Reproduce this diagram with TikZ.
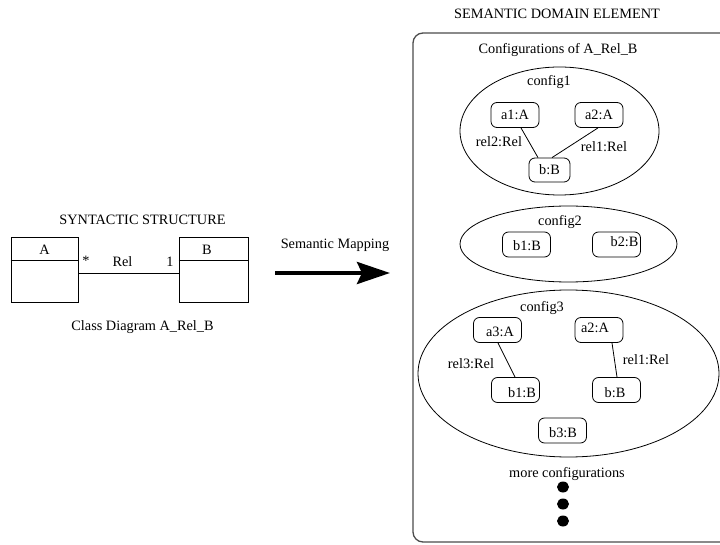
\documentclass[tikz,border=0pt]{standalone}
\usepackage{fontspec}
\setmainfont{Liberation Serif}
\usetikzlibrary{arrows.meta,calc,shapes.geometric}
\begin{document}
\begin{tikzpicture}[x=1pt,y=-1pt,
  every node/.style={font=\fontsize{14.3}{17}\selectfont},
  txt/.style={inner sep=0pt},
  obj/.style={draw,rounded corners=6pt,minimum width=48pt,minimum height=25pt,inner sep=0pt},
  classbox/.style={draw,minimum height=65pt,inner sep=0pt},
  cfg/.style={draw,ellipse,inner sep=0pt},
  link/.style={draw,line width=0.8pt},
  dot/.style={fill=black,ellipse,minimum width=12pt,minimum height=11pt,inner sep=0pt}]
\useasboundingbox (0,0) rectangle (720,545);
\clip (0,0) rectangle (720,545);

% ---------- syntactic side: class diagram ----------
\node[txt] (syntitle) at (142.5,220) {SYNTACTIC STRUCTURE};
\node[classbox,minimum width=67pt,line width=0.8pt] (A) at (44.5,269.5) {};
\node[classbox,minimum width=69pt,line width=0.8pt] (B) at (213.5,269.5) {};
\draw[link] ($(A.north west)+(0,24)$) -- ($(A.north east)+(0,24)$);
\draw[link] ($(B.north west)+(0,24)$) -- ($(B.north east)+(0,24)$);
\node[txt] (Aname) at (44.5,250) {A};
\node[txt] (Bname) at (207,250) {B};
\draw[link] ($(A.east)+(0,3.5)$) -- ($(B.east)+(-69,3.5)$);
\node[txt] (mulA) at (86,261) {*};
\node[txt] (relname) at (122.5,262) {Rel};
\node[txt] (mulB) at (170,262) {1};
\node[txt] (cdname) at (142.5,327) {Class Diagram A\_Rel\_B};

% ---------- semantic mapping arrow ----------
\node[txt] (maplabel) at (335,245) {Semantic Mapping};
\coordinate (mapstart) at (275,273);
\coordinate (mapend) at (390,273);
\draw[line width=4pt,-{Stealth[length=33pt,width=22pt,inset=5pt]}] (mapstart) -- (mapend);

% ---------- semantic domain ----------
\node[txt] (semtitle) at (557,14) {SEMANTIC DOMAIN ELEMENT};
\draw[draw=black!70,line width=1.3pt,rounded corners=10pt] (413,33) rectangle (760,542);
\node[txt] (conftitle) at (558,50) {Configurations of A\_Rel\_B};

% config1
\node[cfg,minimum width=199pt,minimum height=128pt,line width=0.8pt] (c1) at (559.5,131) {};
\node[txt] (c1name) at (549,82) {config1};
\node[obj,line width=0.8pt] (c1a1) at (515,115) {a1:A};
\node[obj,line width=0.8pt] (c1a2) at (599,115) {a2:A};
\node[obj,minimum width=41pt,minimum height=24pt,line width=0.8pt] (c1b) at (549.5,170) {b:B};
\draw[link] ($(c1a1.south)+(6,0)$) -- ($(c1b.north)+(-11.5,0)$);
\draw[link] ($(c1a2.south)+(-1,0)$) -- ($(c1b.north)+(2.5,0)$);
\node[txt] (c1r2) at (499,142) {rel2:Rel};
\node[txt] (c1r1) at (604,147) {rel1:Rel};

% config2
\node[cfg,minimum width=217pt,minimum height=76pt,line width=0.8pt] (c2) at (568.5,244) {};
\node[txt] (c2name) at (560,222) {config2};
\node[obj,line width=0.8pt] (c2b1) at (526.5,244.5) {};
\node[txt] (c2b1t) at (527,246) {b1:B};
\node[obj,line width=0.8pt] (c2b2) at (616.5,244.5) {};
\node[txt] (c2b2t) at (624.5,242) {b2:B};

% config3
\node[cfg,minimum width=301pt,minimum height=167pt,line width=0.8pt] (c3) at (568.5,373.5) {};
\node[txt] (c3name) at (542,308) {config3};
\node[obj,line width=0.8pt] (c3a3) at (497.5,330) {};
\node[txt] (c3a3t) at (500,332) {a3:A};
\node[obj,line width=0.8pt] (c3a2) at (599,330) {};
\node[txt] (c3a2t) at (595,328) {a2:A};
\node[obj,line width=0.8pt] (c3b1) at (515.5,390) {};
\node[txt] (c3b1t) at (522,393) {b1:B};
\node[obj,line width=0.8pt] (c3b) at (616.5,390) {};
\node[txt] (c3bt) at (615,393) {b:B};
\node[obj,line width=0.8pt] (c3b3) at (562.5,430.5) {};
\node[txt] (c3b3t) at (563,433) {b3:B};
\draw[link] ($(c3a3.south)+(0.5,0)$) -- ($(c3b1.north)+(-0.5,0)$);
\draw[link] ($(c3a2.south)+(13,0)$) -- ($(c3b.north)+(0.5,0)$);
\node[txt] (c3r3) at (471,364) {rel3:Rel};
\node[txt] (c3r1) at (646,360) {rel1:Rel};

% further configurations
\node[txt] (more) at (567,474) {more configurations};
\node[dot] (d1) at (563,487) {};
\node[dot] (d2) at (563,504) {};
\node[dot] (d3) at (563,521) {};
\end{tikzpicture}
\end{document}
